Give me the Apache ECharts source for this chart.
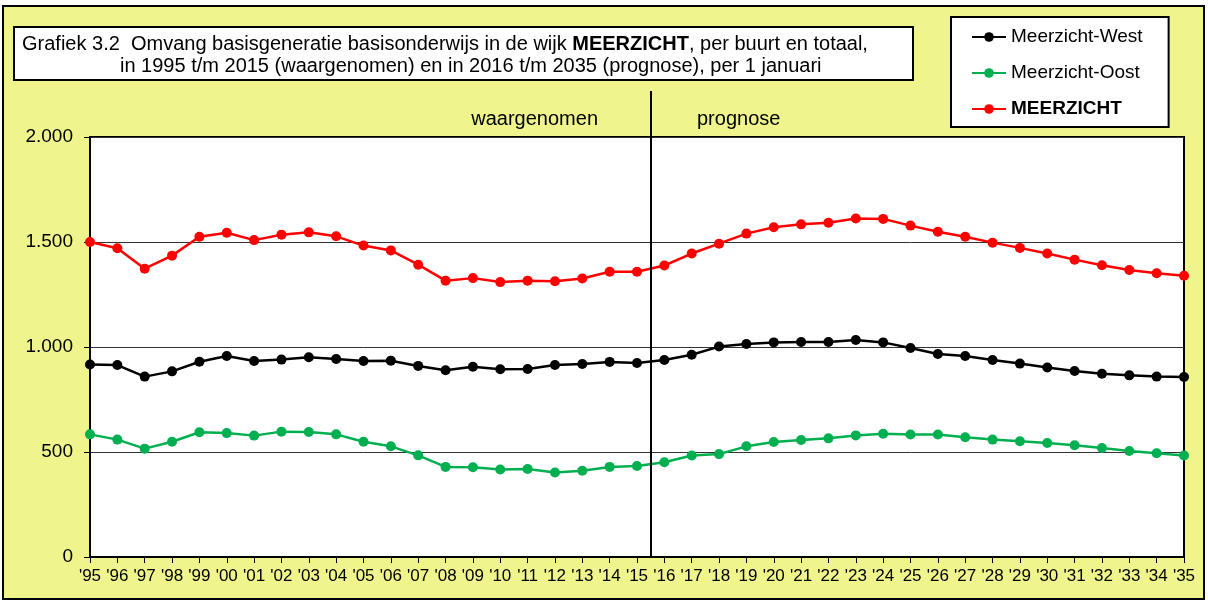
<!DOCTYPE html>
<html>
<head>
<meta charset="utf-8">
<script src="https://cdn.jsdelivr.net/npm/echarts@6/dist/echarts.min.js"></script>
<style>
  html, body { margin: 0; padding: 0; background: #fff; }
  #chart { width: 1208px; height: 602px; }
</style>
</head>
<body>
<div id="chart"></div>
<script>
var years = ["'95", "'96", "'97", "'98", "'99", "'00", "'01", "'02", "'03", "'04",
  "'05", "'06", "'07", "'08", "'09", "'10", "'11", "'12", "'13", "'14", "'15",
  "'16", "'17", "'18", "'19", "'20", "'21", "'22", "'23", "'24", "'25",
  "'26", "'27", "'28", "'29", "'30", "'31", "'32", "'33", "'34", "'35"];

var west = [917, 914, 859, 884, 930, 957, 933, 940, 951, 943,
  933, 935, 910, 889, 906, 894, 895, 914, 919, 929, 924,
  938, 963, 1002, 1014, 1022, 1024, 1024, 1033, 1022, 995,
  967, 957, 938, 921, 902, 886, 873, 865, 859, 857];

var oost = [584, 559, 516, 549, 594, 590, 578, 597, 595, 584,
  549, 527, 484, 429, 427, 417, 419, 402, 411, 429, 433,
  451, 483, 490, 527, 548, 557, 565, 579, 587, 583,
  583, 570, 559, 551, 543, 532, 519, 505, 494, 483];

var totaal = [1500, 1470, 1373, 1435, 1525, 1544, 1509, 1535, 1546, 1527,
  1483, 1460, 1392, 1316, 1328, 1309, 1316, 1313, 1326, 1358, 1358,
  1388, 1445, 1492, 1540, 1570, 1584, 1592, 1612, 1610, 1578,
  1549, 1525, 1497, 1472, 1445, 1416, 1389, 1367, 1351, 1339];

var font = "'Liberation Sans', Arial, sans-serif";
var chart = echarts.init(document.getElementById('chart'));

function line(name, color, data) {
  return {
    name: name,
    type: 'line',
    data: data,
    symbol: 'circle',
    symbolSize: 10,
    lineStyle: { color: color, width: 2.5 },
    itemStyle: { color: color },
    animation: false
  };
}

var option = {
  backgroundColor: '#fff',
  animation: false,
  textStyle: { fontFamily: font },
  grid: {
    left: 90, right: 24, top: 137, bottom: 45,
    show: true, backgroundColor: '#fff', borderColor: '#000', borderWidth: 2
  },
  legend: {
    orient: 'vertical',
    left: 951, top: 17,
    backgroundColor: '#fff',
    borderColor: '#000',
    borderWidth: 2,
    padding: [10, 26, 8, 20],
    itemWidth: 34,
    itemHeight: 12,
    itemGap: 16,
    textStyle: { fontFamily: font, fontSize: 19, color: '#000', lineHeight: 20 },
    data: [
      { name: 'Meerzicht-West' },
      { name: 'Meerzicht-Oost' },
      { name: 'MEERZICHT', textStyle: { fontWeight: 'bold' } }
    ]
  },
  xAxis: {
    type: 'category',
    data: years,
    boundaryGap: false,
    axisLine: { lineStyle: { color: '#000', width: 2 } },
    axisTick: { length: 6, lineStyle: { color: '#000' } },
    axisLabel: { color: '#000', fontSize: 17, margin: 11, interval: 0, fontFamily: font }
  },
  yAxis: {
    type: 'value',
    min: 0, max: 2000, interval: 500,
    axisLine: { show: true, lineStyle: { color: '#000', width: 2 } },
    axisTick: { show: true, length: 6, lineStyle: { color: '#000' } },
    splitLine: { lineStyle: { color: '#333', width: 1 } },
    axisLabel: {
      color: '#000', fontSize: 19, margin: 17, fontFamily: font,
      formatter: function (v) { return v >= 1000 ? Math.floor(v / 1000) + '.' + ('00' + (v % 1000)).slice(-3) : String(v); }
    }
  },
  series: [
    line('Meerzicht-West', '#000', west),
    line('Meerzicht-Oost', '#00B050', oost),
    line('MEERZICHT', '#FF0000', totaal)
  ]
};
chart.setOption(option);

// scheidingslijn tussen waargenomen en prognose
var x15 = chart.convertToPixel({ xAxisIndex: 0 }, "'15");
var x16 = chart.convertToPixel({ xAxisIndex: 0 }, "'16");
var xm = Math.round((x15 + x16) / 2);
var yBottom = chart.convertToPixel({ yAxisIndex: 0 }, 0);

chart.setOption({
  graphic: [
    {
      type: 'rect', z: -10, silent: true,
      shape: { x: 3, y: 6, width: 1201, height: 593 },
      style: { fill: '#EFF48C', stroke: '#000', lineWidth: 2 }
    },
    {
      type: 'rect', z: 10,
      shape: { x: 14, y: 27, width: 899, height: 53 },
      style: { fill: '#fff', stroke: '#000', lineWidth: 2 }
    },
    {
      type: 'text', z: 11, left: 22, top: 34,
      style: {
        text: '{n|Grafiek 3.2  Omvang basisgeneratie basisonderwijs in de wijk }{b|MEERZICHT}{n|, per buurt en totaal,}',
        rich: {
          n: { fontFamily: font, fontSize: 20, fill: '#000' },
          b: { fontFamily: font, fontSize: 20, fontWeight: 'bold', fill: '#000' }
        }
      }
    },
    {
      type: 'text', z: 11, left: 120, top: 56,
      style: {
        text: 'in 1995 t/m 2015 (waargenomen) en in 2016 t/m 2035 (prognose), per 1 januari',
        font: '20px ' + font, fill: '#000'
      }
    },
    {
      type: 'line', z: 20,
      shape: { x1: xm, y1: 91, x2: xm, y2: yBottom },
      style: { stroke: '#000', lineWidth: 2 }
    },
    {
      type: 'text', z: 20,
      x: xm - 53, y: 119,
      style: { text: 'waargenomen', font: '20px ' + font, fill: '#000', align: 'right', verticalAlign: 'middle' }
    },
    {
      type: 'text', z: 20,
      x: xm + 46, y: 119,
      style: { text: 'prognose', font: '20px ' + font, fill: '#000', align: 'left', verticalAlign: 'middle' }
    }
  ]
});
</script>
</body>
</html>
